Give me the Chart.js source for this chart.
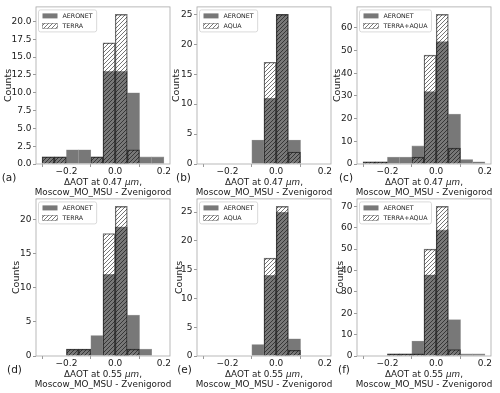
<!DOCTYPE html>
<html>
<head>
<meta charset="utf-8">
<script src="https://cdn.jsdelivr.net/npm/chart.js@4.4.0/dist/chart.umd.min.js"></script>
<style>
  html, body { margin: 0; padding: 0; background: #fff; }
  #fig { position: relative; width: 500px; height: 393px; overflow: hidden; }
  #fig canvas { position: absolute; }
</style>
</head>
<body>
<div id="fig"></div>
<script>
// histogram bins, 0.05 wide
var binEdges = [-0.3, -0.25, -0.2, -0.15, -0.1, -0.05, 0.0, 0.05, 0.1, 0.15, 0.2];
var xTicks = [-0.2, 0.0, 0.2];

// counts per bin at 0.47 um
var aeronetA = [1, 1, 2, 2, 1, 13, 13, 10, 1, 1];
var terraA   = [1, 1, 0, 0, 1, 17, 21, 2, 0, 0];
var aeronetB = [0, 0, 0, 0, 4, 11, 25, 4, 0, 0];
var aquaB    = [0, 0, 0, 0, 0, 17, 25, 2, 0, 0];
var aeronetC = [1, 1, 3, 3, 8, 32, 54, 22, 2, 1];
var bothC    = [1, 1, 0, 0, 3, 48, 66, 7, 0, 0];
// counts per bin at 0.55 um
var aeronetD = [0, 0, 1, 1, 3, 12, 19, 6, 1, 0];
var terraD   = [0, 0, 1, 1, 0, 18, 22, 1, 0, 0];
var aeronetE = [0, 0, 0, 0, 2, 14, 25, 3, 0, 0];
var aquaE    = [0, 0, 0, 0, 0, 17, 26, 1, 0, 0];
var aeronetF = [0, 0, 1, 1, 7, 38, 59, 17, 1, 1];
var bothF    = [0, 0, 1, 1, 1, 50, 70, 3, 0, 0];

var panelLetters = ['(a)', '(b)', '(c)', '(d)', '(e)', '(f)'];
var satNames = ['TERRA', 'AQUA', 'TERRA+AQUA', 'TERRA', 'AQUA', 'TERRA+AQUA'];
var wavelength = ['0.47', '0.47', '0.47', '0.55', '0.55', '0.55'];
var yStep = [2.5, 5, 10, 5, 5, 10];
var yDecimals = [1, 0, 0, 0, 0, 0];

var panels = [
  [aeronetA, terraA], [aeronetB, aquaB], [aeronetC, bothC],
  [aeronetD, terraD], [aeronetE, aquaE], [aeronetF, bothF]
];

// layout
var colLeft = [36, 197, 357], rowTop = [5, 197];
var plotW = 134, plotH = 159, yAxisW = 36, padTop = 5, padRight = 8, xAxisH = 36;
var yTitleX = [8.5, 16, 17, 16.5, 19, 20];
var letterX = [9, 22.5, 25, 14.5, 23.5, 23];

Chart.defaults.font.family = 'DejaVu Sans';
Chart.defaults.color = '#1a1a1a';

var binCenters = [];
for (var i = 0; i < binEdges.length - 1; i++) binCenters.push((binEdges[i] + binEdges[i + 1]) / 2);

function hatchPattern() {
  var c = document.createElement('canvas');
  c.width = c.height = 4;
  var g = c.getContext('2d');
  g.strokeStyle = 'rgba(0,0,0,0.6)';
  g.lineWidth = 0.9;
  g.beginPath();
  g.moveTo(0, 4); g.lineTo(4, 0);
  g.moveTo(-1, 1); g.lineTo(1, -1);
  g.moveTo(3, 5); g.lineTo(5, 3);
  g.stroke();
  return g.createPattern(c, 'repeat');
}
var hatch = hatchPattern();

function fmtTick(v, d) {
  var s = Math.abs(v).toFixed(d);
  return v < -1e-9 ? '\u2212' + s : s;
}

var decor = {
  id: 'decor',
  afterDraw: function (chart) {
    var ctx = chart.ctx, a = chart.chartArea, k = chart.options.plugins.decor;
    ctx.save();
    // axes frame
    ctx.strokeStyle = '#a8a8a8';
    ctx.lineWidth = 0.8;
    ctx.strokeRect(a.left, a.top, a.right - a.left, a.bottom - a.top);

    // legend
    ctx.font = '6.3px "DejaVu Sans"';
    var ds = chart.data.datasets;
    var tw = 0;
    ds.forEach(function (d) { tw = Math.max(tw, ctx.measureText(d.label).width); });
    var lx = a.left + 2.5, ly = a.top + 3, lw = 24 + tw + 4, lh = 22;
    ctx.fillStyle = 'rgba(255,255,255,0.85)';
    ctx.strokeStyle = '#d0d0d0';
    ctx.lineWidth = 0.8;
    ctx.beginPath();
    ctx.roundRect(lx, ly, lw, lh, 2);
    ctx.fill(); ctx.stroke();
    ds.forEach(function (d, j) {
      var cy = ly + 6 + j * 10;
      ctx.fillStyle = d.backgroundColor;
      ctx.fillRect(lx + 4, cy - 2.5, 15, 5);
      if (j === 1) {
        ctx.strokeStyle = 'rgba(0,0,0,0.5)';
        ctx.lineWidth = 0.6;
        ctx.strokeRect(lx + 4, cy - 2.5, 15, 5);
      }
      ctx.fillStyle = '#1a1a1a';
      ctx.textBaseline = 'middle';
      ctx.textAlign = 'left';
      ctx.fillText(d.label, lx + 24, cy + 0.5);
    });

    // x axis title, two lines, with italic unit
    var cx = (a.left + a.right) / 2;
    var y1 = a.bottom + 18.5, y2 = a.bottom + 28.5;
    var p1 = '\u0394AOT at ' + k.wl + ' ', p2 = '\u03bcm', p3 = ',';
    var fN = '8.8px "DejaVu Sans"', fI = 'italic 8.8px "DejaVu Sans"';
    ctx.font = fN; var w1 = ctx.measureText(p1).width, w3 = ctx.measureText(p3).width;
    ctx.font = fI; var w2 = ctx.measureText(p2).width;
    var x0 = cx - (w1 + w2 + w3) / 2;
    ctx.fillStyle = '#1a1a1a';
    ctx.textBaseline = 'middle';
    ctx.textAlign = 'left';
    ctx.font = fN; ctx.fillText(p1, x0, y1);
    ctx.font = fI; ctx.fillText(p2, x0 + w1, y1);
    ctx.font = fN; ctx.fillText(p3, x0 + w1 + w2, y1);
    ctx.textAlign = 'center';
    ctx.fillText('Moscow_MO_MSU - Zvenigorod', cx, y2);

    // panel letter
    ctx.font = '10.5px "DejaVu Sans"';
    ctx.fillText(k.letter, k.letterX, a.bottom + 14);
    ctx.restore();
  }
};

var fig = document.getElementById('fig');

panels.forEach(function (p, idx) {
  var col = idx % 3, row = Math.floor(idx / 3);
  var cv = document.createElement('canvas');
  var W = yAxisW + plotW + padRight, H = padTop + plotH + xAxisH;
  cv.width = W; cv.height = H;
  cv.style.width = W + 'px'; cv.style.height = H + 'px';
  cv.style.left = (colLeft[col] - yAxisW) + 'px';
  cv.style.top = (rowTop[row] - padTop) + 'px';
  fig.appendChild(cv);

  var aer = p[0], sat = p[1];
  var ymax = Math.max(Math.max.apply(null, aer), Math.max.apply(null, sat)) * 1.05;
  var dec = yDecimals[idx];

  new Chart(cv.getContext('2d'), {
    type: 'bar',
    data: {
      datasets: [{
        label: 'AERONET',
        data: binCenters.map(function (c, i) { return { x: c, y: aer[i] || null }; }),
        backgroundColor: '#787878',
        borderColor: 'rgba(150,150,150,0.9)',
        borderWidth: 0.6,
        barPercentage: 1,
        categoryPercentage: 1,
        grouped: false,
        order: 2
      }, {
        label: satNames[idx],
        data: binCenters.map(function (c, i) { return { x: c, y: sat[i] || null }; }),
        backgroundColor: hatch,
        borderColor: 'rgba(0,0,0,0.55)',
        borderWidth: 0.7,
        barPercentage: 1,
        categoryPercentage: 1,
        grouped: false,
        order: 1
      }]
    },
    options: {
      responsive: false,
      animation: false,
      devicePixelRatio: 1,
      layout: { padding: { top: padTop, right: padRight, left: 0, bottom: 0 } },
      plugins: {
        legend: { display: false },
        tooltip: { enabled: false },
        decor: { letter: panelLetters[idx], letterX: letterX[idx], wl: wavelength[idx] }
      },
      scales: {
        x: {
          type: 'linear',
          min: -0.325,
          max: 0.225,
          offset: false,
          grid: { drawOnChartArea: false, tickLength: 3, color: '#999' },
          border: { display: false },
          ticks: {
            font: { size: 9 },
            padding: -1,
            maxRotation: 0,
            callback: function (v) { return fmtTick(v, 1); }
          },
          afterBuildTicks: function (s) { s.ticks = xTicks.map(function (v) { return { value: v }; }); },
          afterFit: function (s) { s.height = xAxisH; }
        },
        y: {
          min: 0,
          max: ymax,
          grid: { drawOnChartArea: false, tickLength: 3, color: '#999' },
          border: { display: false },
          ticks: {
            stepSize: yStep[idx],
            includeBounds: false,
            font: { size: 9 },
            padding: 1.5,
            callback: function (v) { return fmtTick(v, dec); }
          },
          title: {
            display: true,
            text: 'Counts',
            font: { size: 9.5 },
            padding: { top: yTitleX[idx] - 5.7, bottom: 0 }
          },
          afterFit: function (s) { s.width = yAxisW; }
        }
      }
    },
    plugins: [decor]
  });
});
</script>
</body>
</html>
